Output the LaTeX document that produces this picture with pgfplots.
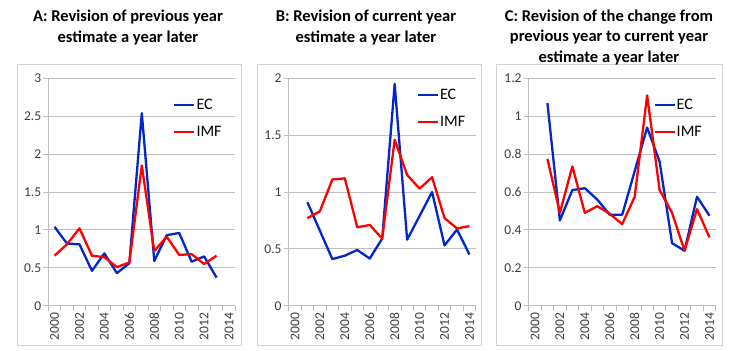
\documentclass[border=0pt]{standalone}
\usepackage{pgfplots}
\pgfplotsset{compat=1.18}
\usepackage{fontspec}
\setmainfont{Carlito}
\definecolor{ecblue}{RGB}{0,38,204}
\definecolor{imfred}{RGB}{255,0,0}
\definecolor{gridgray}{RGB}{190,190,190}
\definecolor{framegray}{RGB}{210,210,210}
\definecolor{ticktext}{RGB}{60,60,60}

\pgfplotsset{
 panel/.style={
  scale only axis, width=187bp, height=227.4bp,
  xmin=1999.5, xmax=2014.5, ymin=0,
  axis x line*=bottom, axis y line*=left,
  axis line style={gridgray, line width=0.8bp, -},
  ymajorgrids, grid style={gridgray, line width=0.8bp},
  xtick={2000,2002,...,2014},
  minor xtick={1999.5,2000.5,...,2014.5},
  tick align=outside, major tick length=5bp, minor tick length=5bp,
  tick style={gridgray, line width=0.8bp},
  every major x tick/.append style={draw=none},
  /pgf/number format/assume math mode=true,
  x tick label style={/pgf/number format/1000 sep={}, rotate=90, anchor=east, inner sep=0pt,
     font=\fontsize{13.5bp}{15bp}\selectfont, text=ticktext},
  y tick label style={inner sep=0pt, font=\fontsize{13.5bp}{15bp}\selectfont, text=ticktext},
  xticklabel shift=2bp, yticklabel shift=2bp,
  legend style={draw=none, fill=none, inner sep=0pt,
     font=\fontsize{16bp}{18bp}\selectfont, row sep=13bp, nodes={inner sep=1bp}},
  legend cell align=left,
  legend image code/.code={\draw[##1, line width=2.3bp] (0bp,0bp) -- (20bp,0bp);},
 },
 ec/.style={ecblue, line width=2.3bp, line join=round, no markers},
 imf/.style={imfred, line width=2.3bp, line join=round, no markers},
}

\pgfplotstableread{
year ec imf
2000 1.04 0.66
2001 0.82 0.81
2002 0.81 1.02
2003 0.46 0.66
2004 0.69 0.64
2005 0.43 0.51
2006 0.56 0.57
2007 2.54 1.85
2008 0.59 0.72
2009 0.93 0.91
2010 0.96 0.67
2011 0.58 0.68
2012 0.65 0.55
2013 0.37 0.66
}\dataA

\pgfplotstableread{
year ec imf
2001 0.91 0.77
2002 0.66 0.83
2003 0.41 1.11
2004 0.44 1.12
2005 0.49 0.69
2006 0.415 0.71
2007 0.59 0.59
2008 1.95 1.46
2009 0.58 1.15
2010 0.79 1.03
2011 1.00 1.13
2012 0.53 0.77
2013 0.67 0.68
2014 0.45 0.70
}\dataB

\pgfplotstableread{
year ec imf
2001 1.07 0.775
2002 0.45 0.49
2003 0.61 0.735
2004 0.62 0.49
2005 0.56 0.525
2006 0.48 0.485
2007 0.48 0.43
2008 0.71 0.575
2009 0.94 1.11
2010 0.76 0.61
2011 0.33 0.49
2012 0.29 0.29
2013 0.575 0.51
2014 0.475 0.36
}\dataC

\begin{document}
\begin{tikzpicture}
\useasboundingbox (0bp,0bp) rectangle (730bp,351bp);
\draw[framegray, line width=0.8bp] (17bp,6bp) rectangle (241bp,287bp);
\draw[framegray, line width=0.8bp] (257bp,6bp) rectangle (481bp,287bp);
\draw[framegray, line width=0.8bp] (496bp,6bp) rectangle (722bp,287bp);

\node[align=center, font=\bfseries\fontsize{16.5bp}{20.5bp}\selectfont] at (128bp,323.5bp)
  {A: Revision of previous year\\estimate a year later};
\node[align=center, font=\bfseries\fontsize{16.5bp}{20.5bp}\selectfont] at (366bp,323.5bp)
  {B: Revision of current year\\estimate a year later};
\node[align=center, font=\bfseries\fontsize{16.5bp}{20.5bp}\selectfont] at (609bp,313.5bp)
  {C: Revision of the change from\\previous year to current year\\estimate a year later};

\begin{axis}[panel, at={(48.3bp,45.3bp)}, anchor=south west,
  ymax=3, ytick={0,0.5,1,1.5,2,2.5,3},
  legend style={at={(0.667,0.824)}, anchor=west}]
  \addplot[ec] table[x=year, y=ec] {\dataA};
  \addlegendentry{EC}
  \addplot[imf] table[x=year, y=imf] {\dataA};
  \addlegendentry{IMF}
\end{axis}

\begin{axis}[panel, at={(288.7bp,45.3bp)}, anchor=south west,
  ymax=2, ytick={0,0.5,1,1.5,2},
  legend style={at={(0.684,0.868)}, anchor=west}]
  \addplot[ec] table[x=year, y=ec] {\dataB};
  \addlegendentry{EC}
  \addplot[imf] table[x=year, y=imf] {\dataB};
  \addlegendentry{IMF}
\end{axis}

\begin{axis}[panel, at={(528.7bp,45.3bp)}, anchor=south west,
  ymax=1.2, ytick={0,0.2,0.4,0.6,0.8,1,1.2},
  legend style={at={(0.666,0.824)}, anchor=west}]
  \addplot[ec] table[x=year, y=ec] {\dataC};
  \addlegendentry{EC}
  \addplot[imf] table[x=year, y=imf] {\dataC};
  \addlegendentry{IMF}
\end{axis}
\end{tikzpicture}
\end{document}
